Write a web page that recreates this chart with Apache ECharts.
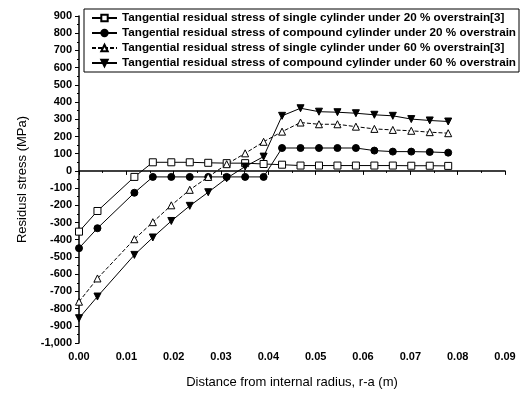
<!DOCTYPE html>
<html lang="en">
<head>
<meta charset="UTF-8">
<title>Residual stress</title>
<script src="https://cdn.jsdelivr.net/npm/echarts@6/dist/echarts.min.js"></script>
<style>
  html, body { margin: 0; padding: 0; background: #fff; }
  #chart { width: 527px; height: 395px; }
</style>
</head>
<body>
<div id="chart"></div>
<script>
// distance from internal radius, r-a (m)
var distance = [0, 0.0039, 0.0117, 0.0156, 0.0195, 0.0234, 0.0273, 0.0312, 0.0351, 0.039,
  0.0429, 0.0468, 0.0507, 0.0546, 0.0585, 0.0624, 0.0663, 0.0702, 0.0741, 0.078];

var single20 = [-353, -233, -35, 50, 50, 50, 47, 45, 45, 40,
  36, 31, 31, 31, 31, 31, 31, 30, 30, 29];
var compound20 = [-449, -333, -127, -35, -35, -35, -35, -35, -35, -35,
  133, 133, 133, 133, 133, 118, 112, 112, 110, 106];
var single60 = [-760, -625, -397, -298, -200, -110, -35, 39, 102, 169,
  228, 281, 271, 271, 257, 244, 238, 233, 225, 219];
var compound60 = [-856, -730, -488, -387, -291, -203, -124, -43, 25, 83,
  320, 364, 344, 341, 335, 326, 320, 301, 293, 287];

var names = [
  'Tangential residual stress of single cylinder under 20 % overstrain[3]',
  'Tangential residual stress of compound cylinder under 20 % overstrain',
  'Tangential residual stress of single cylinder under 60 % overstrain[3]',
  'Tangential residual stress of compound cylinder under 60 % overstrain'
];

function pairs(vals) {
  return distance.map(function (d, i) { return [d, vals[i]]; });
}

function makeSeries(name, vals, symbol, filled, dashed, rotate) {
  return {
    name: name,
    type: 'line',
    data: pairs(vals),
    symbol: symbol,
    symbolSize: 7,
    symbolRotate: rotate || 0,
    showAllSymbol: true,
    animation: false,
    lineStyle: { color: '#000', width: 1, type: dashed ? [4, 2] : 'solid' },
    itemStyle: { color: filled ? '#000' : '#fff', borderColor: '#000', borderWidth: 1 }
  };
}

var chart = echarts.init(document.getElementById('chart'), null, { renderer: 'canvas' });
chart.setOption({
  backgroundColor: '#fff',
  animation: false,
  grid: { left: 79, right: 22, top: 16, bottom: 52 },
  legend: {
    orient: 'vertical',
    left: 84,
    top: 9,
    padding: [3, 3, 3, 7],
    itemGap: 3,
    itemWidth: 25,
    itemHeight: 8,
    borderColor: '#000',
    borderWidth: 1,
    backgroundColor: '#fff',
    textStyle: { color: '#000', fontFamily: 'Liberation Sans', fontWeight: 'bold', fontSize: 11.7 },
    data: names
  },
  xAxis: {
    type: 'value',
    min: 0,
    max: 0.09,
    interval: 0.01,
    name: 'Distance from internal radius, r-a (m)',
    nameLocation: 'middle',
    nameGap: 33,
    nameTextStyle: { color: '#000', fontFamily: 'Liberation Sans', fontSize: 13 },
    axisLine: { lineStyle: { color: '#000', width: 1.5 } },
    axisTick: { inside: false, length: 4, lineStyle: { color: '#000', width: 1 } },
    minorTick: { show: true, splitNumber: 2, length: 2, lineStyle: { color: '#000' } },
    splitLine: { show: false },
    axisLabel: {
      color: '#000', fontFamily: 'Liberation Sans', fontWeight: 'bold', fontSize: 11, margin: 8,
      formatter: function (v) { return v.toFixed(2); }
    }
  },
  yAxis: {
    type: 'value',
    min: -1000,
    max: 900,
    interval: 100,
    name: 'Residusl stress (MPa)',
    nameLocation: 'middle',
    nameGap: 50,
    nameTextStyle: { color: '#000', fontFamily: 'Liberation Sans', fontSize: 13 },
    axisLine: { show: true, lineStyle: { color: '#000', width: 1.5 } },
    axisTick: { show: true, length: 4, lineStyle: { color: '#000', width: 1 } },
    minorTick: { show: true, splitNumber: 2, length: 2, lineStyle: { color: '#000' } },
    splitLine: { show: false },
    axisLabel: { color: '#000', fontFamily: 'Liberation Sans', fontWeight: 'bold', fontSize: 11, margin: 7 }
  },
  series: [
    makeSeries(names[0], single20, 'rect', false, false),
    makeSeries(names[1], compound20, 'circle', true, false),
    makeSeries(names[2], single60, 'triangle', false, true),
    makeSeries(names[3], compound60, 'triangle', true, false, 180)
  ]
});
</script>
</body>
</html>
